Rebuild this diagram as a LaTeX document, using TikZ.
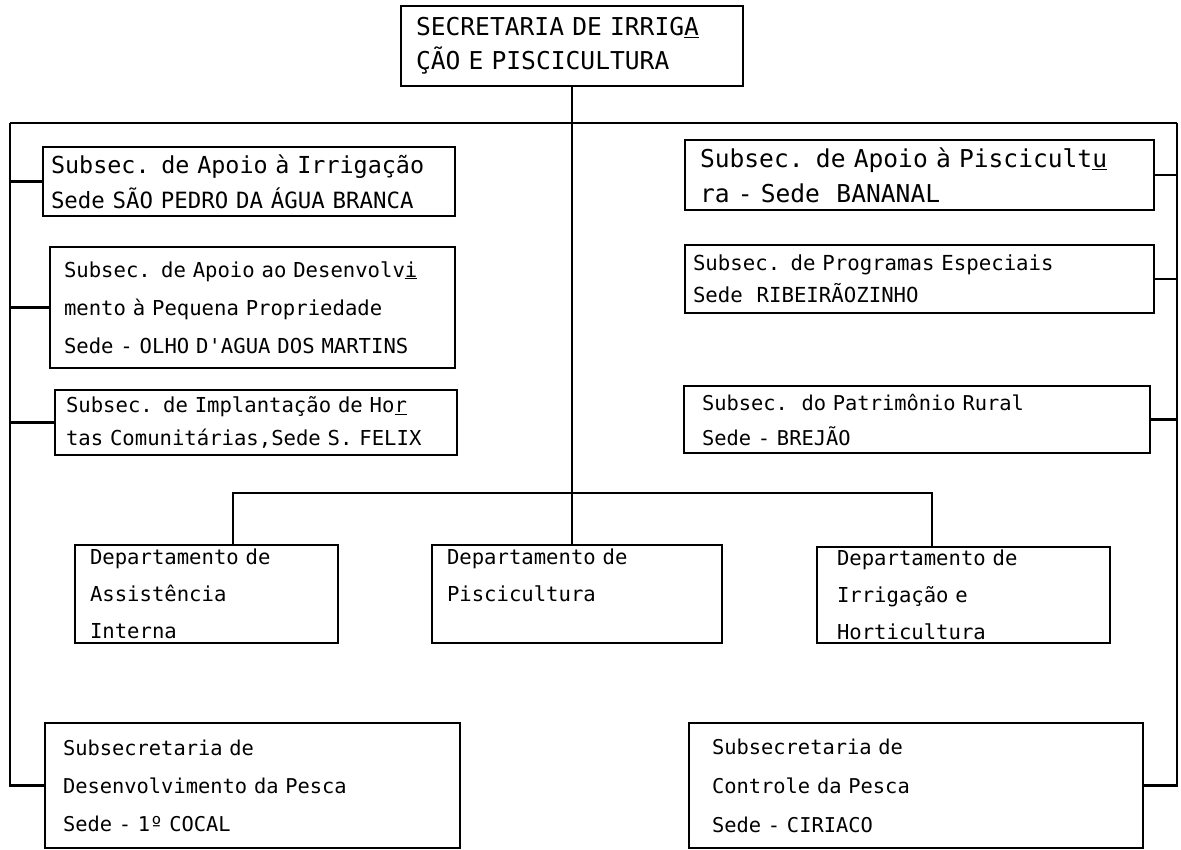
\documentclass[tikz,border=0pt]{standalone}
\usepackage{fontspec}
\setmonofont{DejaVu Sans Mono}
\tikzset{
  orgbox/.style={draw, line width=2.4pt, outer sep=0pt, anchor=north west,
    align=left, inner ysep=0pt},
  bigtype/.style={font=\ttfamily\fontsize{24.6}{34}\selectfont},
  smalltype/.style={font=\ttfamily\fontsize{20.6}{37}\selectfont},
  link/.style={line width=2.4pt}
}
\begin{document}
\begin{tikzpicture}[x=1pt,y=-1pt]
        \useasboundingbox (0,0) rectangle (1181,850);
        %% secretaria
        \node[orgbox, bigtype, minimum width=342pt, minimum height=80pt, inner xsep=15pt, text width=312pt]
            (sec) at (401,6) {SECRETARIA DE IRRIG\underline{A}\\ÇÃO E PISCICULTURA};
        %% subsecretarias, left column
        \node[orgbox, minimum width=412pt, minimum height=69pt, inner xsep=8pt, text width=396pt,
            font=\ttfamily\fontsize{23.4}{35}\selectfont]
            (irr) at (43,147) {Subsec. de Apoio à Irrigação\\{\fontsize{22.4}{35}\selectfont Sede SÃO PEDRO DA ÁGUA BRANCA}};
        \node[orgbox, minimum width=405pt, minimum height=121pt, inner xsep=14pt, text width=377pt,
            font=\ttfamily\fontsize{20.6}{38}\selectfont]
            (peq) at (50,247) {Subsec. de Apoio ao Desenvolv\underline{i}\\mento à Pequena Propriedade\\Sede - OLHO D'AGUA DOS MARTINS};
        \node[orgbox, minimum width=402pt, minimum height=65pt, inner xsep=11pt, text width=380pt,
            font=\ttfamily\fontsize{20.6}{33}\selectfont]
            (hor) at (55,390) {Subsec. de Implantação de Ho\underline{r}\\tas Comunitárias,Sede S. FELIX};
        %% subsecretarias, right column
        \node[orgbox, bigtype, minimum width=469pt, minimum height=70pt, inner xsep=15pt, text width=439pt,
            font=\ttfamily\fontsize{24.6}{35}\selectfont]
            (pis) at (685,140) {Subsec. de Apoio à Piscicult\underline{u}\\ra - Sede~~BANANAL};
        \node[orgbox, minimum width=469pt, minimum height=68pt, inner xsep=8pt, text width=453pt,
            font=\ttfamily\fontsize{20.7}{32}\selectfont]
            (pro) at (685,245) {Subsec. de Programas Especiais\\Sede~~RIBEIRÃOZINHO};
        \node[orgbox, minimum width=466pt, minimum height=67pt, inner xsep=18pt, text width=430pt,
            font=\ttfamily\fontsize{20.4}{35}\selectfont]
            (pat) at (684,386) {Subsec.~~do Patrimônio Rural\\Sede - BREJÃO};
        %% departamentos
        \node[orgbox, smalltype, minimum width=263pt, minimum height=98pt, inner xsep=15pt, text width=233pt]
            (dai) at (75,545) {Departamento de\\Assistência\\Interna};
        \node[orgbox, smalltype, minimum width=290pt, minimum height=98pt, inner xsep=15pt, text width=260pt]
            (dpi) at (432,545) {Departamento de\\Piscicultura\\~};
        \node[orgbox, smalltype, minimum width=293pt, minimum height=96pt, inner xsep=20pt, text width=253pt]
            (dih) at (817,547) {Departamento de\\Irrigação e\\Horticultura};
        %% subsecretarias da pesca
        \node[orgbox, minimum width=415pt, minimum height=125pt, inner xsep=18pt, text width=379pt,
            font=\ttfamily\fontsize{20.4}{38}\selectfont]
            (dpe) at (45,723) {Subsecretaria de\\Desenvolvimento da Pesca\\Sede - 1º COCAL};
        \node[orgbox, minimum width=454pt, minimum height=125pt, inner xsep=23pt, text width=408pt,
            font=\ttfamily\fontsize{20.4}{39}\selectfont]
            (dcp) at (689,723) {Subsecretaria de\\Controle da Pesca\\Sede - CIRIACO};
        %% rails and bars
        \coordinate (railL) at (10,123);
        \coordinate (railR) at (1177,123);
        \coordinate (barL) at (233,493);
        \coordinate (barR) at (932,493);
        \draw[link] (railL) -- (railR);
        \draw[link] (railL) |- (dpe.west);
        \draw[link] (railR) |- (dcp.east);
        \draw[link] (irr.west) -- (irr.west -| railL);
        \draw[link] (peq.west) -- (peq.west -| railL);
        \draw[link] (hor.west) -- (hor.west -| railL);
        \draw[link] (pis.east) -- (pis.east -| railR);
        \draw[link] (pro.east) -- (pro.east -| railR);
        \draw[link] (pat.east) -- (pat.east -| railR);
        %% trunk and departments
        \draw[link] (sec.south) -- (sec.south |- dpi.north);
        \draw[link] (barL |- dai.north) -- (barL) -- (barR) -- (barR |- dih.north);
    \end{tikzpicture}
\end{document}
